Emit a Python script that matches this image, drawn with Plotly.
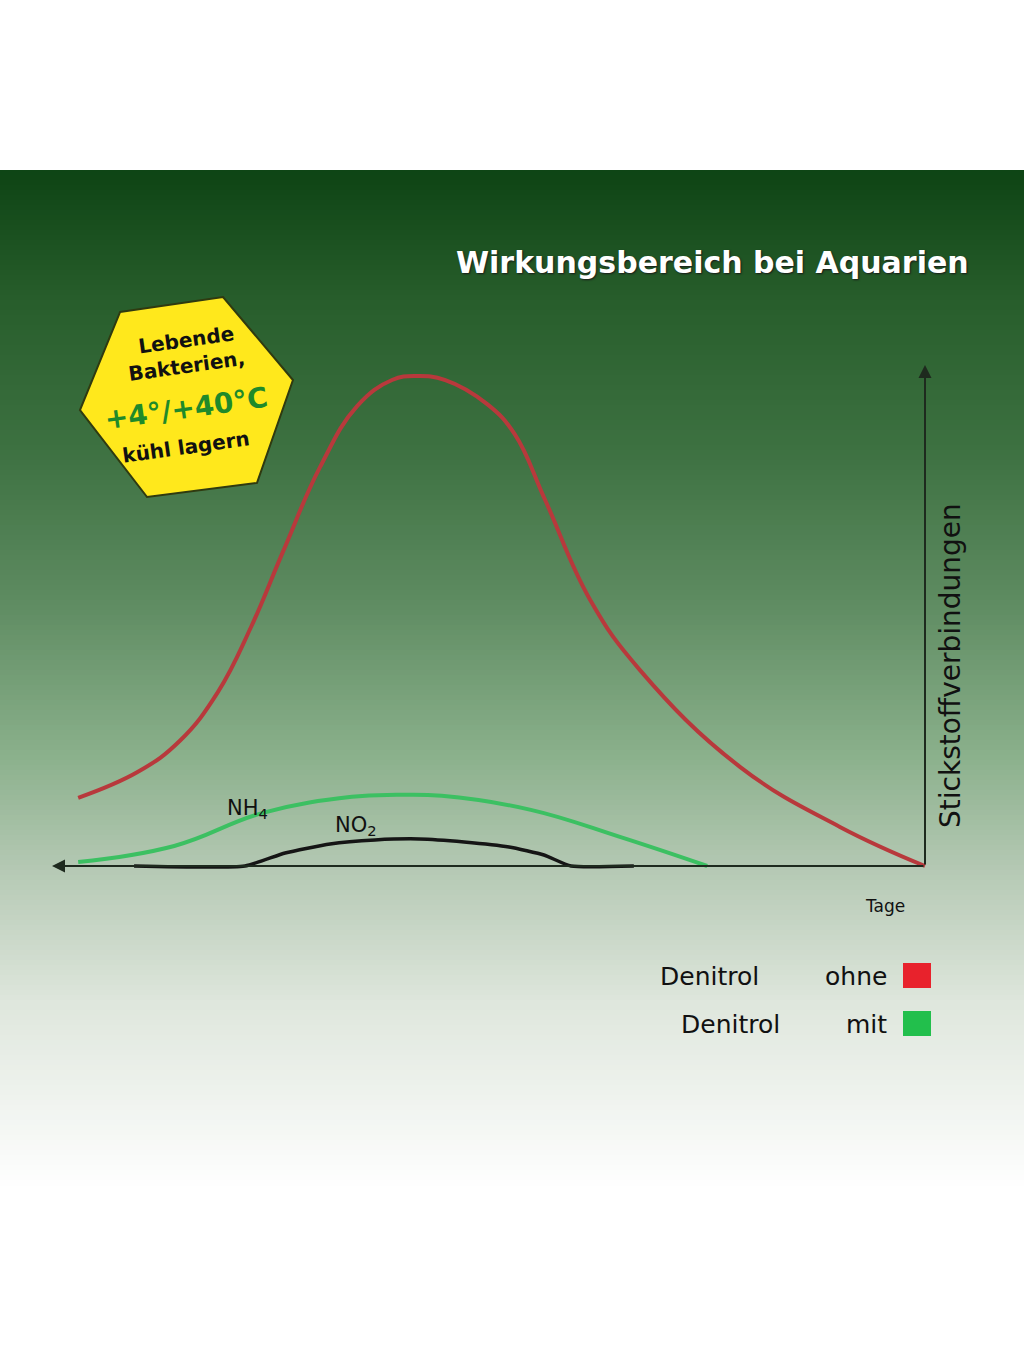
import plotly.graph_objects as go

# --- data (Tage / relative Stickstoffverbindungen) ---
ohne_tage = [0.0, 1.95, 4.24, 6.53, 7.67, 8.70, 9.40, 10.03, 10.99, 11.64, 12.21, 13.01,
             13.86, 14.71, 15.44, 16.20, 17.07, 18.03, 19.40]
ohne_wert = [0.0, 0.78, 1.98, 3.91, 5.31, 7.30, 8.62, 9.22, 9.70, 9.78, 9.70, 9.18,
             7.96, 6.27, 4.77, 3.47, 2.50, 1.88, 1.36]

nh4_tage = [4.99, 6.99, 9.03, 11.07, 12.10, 13.13, 15.17, 17.20, 19.40]
nh4_wert = [0.0, 0.58, 1.12, 1.40, 1.42, 1.38, 1.06, 0.40, 0.08]

no2_tage = [6.67, 8.11, 8.73, 9.53, 10.56, 11.59, 12.60, 13.63, 14.66, 15.58, 18.12]
no2_wert = [0.0, 0.0, 0.22, 0.38, 0.48, 0.54, 0.52, 0.44, 0.26, 0.0, 0.0]

legende = ["ohne", "mit"]
legende_farben = ["#e8222c", "#22bf4c"]

W, H = 1024, 1365
# pixel -> axis mapping (origin at px 925/866)
X_RANGE = [925 / 43.65, -(W - 925) / 43.65]
Y_RANGE = [-(H - 866) / 50.1, 866 / 50.1]
FONT = 'DejaVu Sans, Liberation Sans, Arial'


def px(x):
    return x / W


def py(y):
    return 1 - y / H


def hexcol(c):
    c = c.lstrip('#')
    return [int(c[i:i + 2], 16) for i in (0, 2, 4)]


def label(x, y, text, size, color='#111', **kw):
    d = dict(x=px(x), y=py(y), xref='paper', yref='paper', showarrow=False,
             xanchor='center', yanchor='middle', text=text,
             font=dict(family=FONT, size=size, color=color))
    d.update(kw)
    return d


fig = go.Figure()

# background gradient (white -> dark green -> white)
stops = [(170, '#0e4515'), (300, '#285e2c'), (450, '#3e7242'), (600, '#5f8c62'),
         (750, '#8ab08b'), (866, '#b5c9b4'), (1000, '#dfe7dd'), (1185, '#ffffff')]
shapes = []
step = 5
for y0 in range(170, 1185, step):
    for (a, ca), (b, cb) in zip(stops[:-1], stops[1:]):
        if a <= y0 < b:
            t = (y0 - a) / (b - a)
            r1, g1, b1 = hexcol(ca)
            r2, g2, b2 = hexcol(cb)
            col = 'rgb(%d,%d,%d)' % (r1 + (r2 - r1) * t, g1 + (g2 - g1) * t, b1 + (b2 - b1) * t)
            break
    shapes.append(dict(type='rect', xref='paper', yref='paper', x0=0, x1=1,
                       y0=py(y0 + step + 0.5), y1=py(y0), fillcolor=col,
                       line=dict(width=0), layer='below'))

# yellow hexagon badge
hexa = [(120, 312), (223, 297), (293, 380), (257, 483), (147, 497), (80, 410)]
path = 'M ' + ' L '.join('%.4f,%.4f' % (px(a), py(b)) for a, b in hexa) + ' Z'
shapes.append(dict(type='path', xref='paper', yref='paper', path=path,
                   fillcolor='#ffe81c', line=dict(color='#2f3a10', width=2)))

# legend squares
for i, c in enumerate(legende_farben):
    y0 = 963 + i * 48
    shapes.append(dict(type='rect', xref='paper', yref='paper', x0=px(903), x1=px(931),
                       y0=py(y0 + 25), y1=py(y0), fillcolor=c, line=dict(width=0)))

fig.add_trace(go.Scatter(x=ohne_tage, y=ohne_wert, mode='lines', name='ohne Denitrol',
                         line=dict(color='#b8393c', width=4, shape='spline', smoothing=1.2,
                                   simplify=False)))
fig.add_trace(go.Scatter(x=no2_tage, y=no2_wert, mode='lines', name='NO2',
                         line=dict(color='#151515', width=3.5, shape='spline', smoothing=0.5)))
fig.add_trace(go.Scatter(x=nh4_tage, y=nh4_wert, mode='lines', name='mit Denitrol',
                         line=dict(color='#3cc062', width=4, shape='spline', smoothing=1.2,
                                   simplify=False)))

ann = []
# axes with arrows
ann.append(dict(x=20, y=0, ax=0, ay=0, xref='x', yref='y', axref='x', ayref='y', text='',
                showarrow=True, arrowhead=2, arrowsize=1.3, arrowwidth=2, arrowcolor='#1e2a1e'))
ann.append(dict(x=0, y=10, ax=0, ay=0, xref='x', yref='y', axref='x', ayref='y', text='',
                showarrow=True, arrowhead=2, arrowsize=1.3, arrowwidth=2, arrowcolor='#1e2a1e'))

title = label(712, 262, '<b>Wirkungsbereich bei Aquarien</b>', 30, 'white')
title['font']['shadow'] = '1px 1px 2px #1a1a1a'
ann.append(title)
ann.append(label(950, 666, 'Stickstoffverbindungen', 28, textangle=-90))
ann.append(label(885, 906, 'Tage', 17))
ann.append(label(247, 809, 'NH<sub>4</sub>', 21))
ann.append(label(356, 826, 'NO<sub>2</sub>', 21))

# badge text
badge = [('Lebende', 340, 20, '#111'), ('Bakterien,', 366, 20, '#111'),
         ('+4°/+40°C', 408, 28, '#1f8a2a'), ('kühl lagern', 447, 20, '#111')]
for txt, yy, sz, col in badge:
    ann.append(label(186, yy, '<b>%s</b>' % txt, sz, col, textangle=-8))

# legend text
for i, word in enumerate(legende):
    yy = 976 + i * 48
    ann.append(label(889, yy, word, 25, xanchor='right'))
    ann.append(label(761 + i * 21, yy, 'Denitrol', 25, xanchor='right'))

fig.update_layout(
    width=W, height=H,
    margin=dict(l=0, r=0, t=0, b=0),
    paper_bgcolor='white', plot_bgcolor='rgba(0,0,0,0)',
    showlegend=False,
    shapes=shapes, annotations=ann,
    xaxis=dict(range=X_RANGE, visible=False, fixedrange=True),
    yaxis=dict(range=Y_RANGE, visible=False, fixedrange=True),
)

fig.write_html("out.html", config=dict(displayModeBar=False),
               post_script="document.body.style.margin='0';document.body.style.overflow='hidden';")
